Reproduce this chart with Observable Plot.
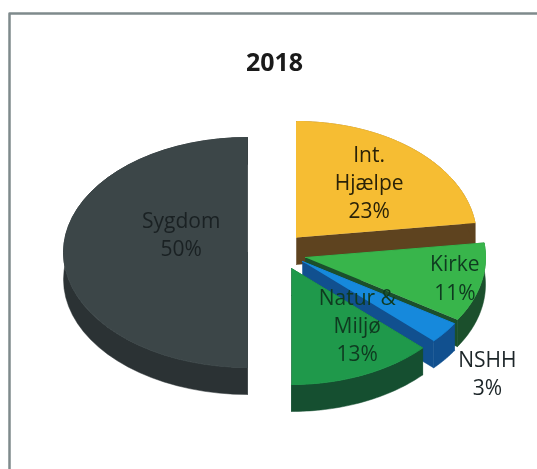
<!DOCTYPE html>
<html><head><meta charset="utf-8">
<script src="https://cdn.jsdelivr.net/npm/d3@7"></script>
<script src="https://cdn.jsdelivr.net/npm/@observablehq/plot@0.6"></script>
<style>html,body{margin:0;padding:0;background:#fff}svg{display:block}</style>
</head><body><div id="chart"></div>
<script>
const title = "2018";
const categories = ["Int.\nHjælpe", "Kirke", "NSHH", "Natur &\nMiljø", "Sygdom"];
const shares = [23, 11, 3, 13, 50];

const topColors = ["#f6bd33", "#38b54b", "#1689dc", "#1f994b", "#3c4648"];
const sideColors = ["#5e431f", "#1b4f2c", "#11508f", "#154f30", "#2b3234"];
const textColors = ["#2a2208", "#0f3a20", "#1c2528", "#0f3a20", "#1a2123"];

// layout of the exploded tilted disc, in picture units
const radiusX = [180, 180, 180, 180, 184];
const radiusY = [116, 116, 116, 116, 115];
const centreX = [296, 305, 302, 291, 247];
const centreY = [237, 257, 261, 268, 252];
const depth = 27;
// label place as fractions of the radii, from the slice's centre
const labelFx = [0.61, 0.85, 1.30, 0.92, -0.36];
const labelFy = [0.65, 0.75, 1.55, 0.52, -0.17];
const frameEdges = {left: 9, top: 13, right: 537, bottom: 469};

const angles = [];
shares.reduce((a, v, i) => { const b = a + v / 100 * 2 * Math.PI; angles[i] = [a, b]; return b; }, 0);

const tops = [], sides = [], labels = [];
categories.forEach((name, i) => {
  const [a0, a1] = angles[i];
  const at = (t, dz = 0) => ({x: centreX[i] + radiusX[i] * Math.sin(t), y: centreY[i] - radiusY[i] * Math.cos(t) + dz});
  const arc = d3.range(0, 41).map(k => a0 + (a1 - a0) * k / 40);
  const c = {x: centreX[i], y: centreY[i]};
  const push = (arr, id, pts) => pts.forEach(p => arr.push({...p, id, key: i}));
  const cd = {x: c.x, y: c.y + depth};
  push(sides, i + "a", [c, at(a0), at(a0, depth), cd]);
  push(sides, i + "b", [c, at(a1), at(a1, depth), cd]);
  push(sides, i + "c", [...arc.map(t => at(t)), ...arc.slice().reverse().map(t => at(t, depth))]);
  push(tops, i + "t", [c, ...arc.map(t => at(t))]);
  const mid = (a0 + a1) / 2;
  labels.push({
    text: `${name}\n${shares[i]}%`,
    x: centreX[i] + labelFx[i] * radiusX[i] * (i === 4 ? 1 : Math.sin(mid)),
    y: centreY[i] + labelFy[i] * radiusY[i] * (i === 4 ? 1 : -Math.cos(mid)),
    color: textColors[i]
  });
});

const order = [4, 0, 1, 2, 3];
const marks = [];
for (const i of order) {
  marks.push(Plot.line(sides.filter(d => d.key === i), {x: "x", y: "y", z: "id", fill: sideColors[i], stroke: sideColors[i], strokeWidth: 0.5, imageFilter: "blur(0.6px)"}));
  marks.push(Plot.line(tops.filter(d => d.key === i), {x: "x", y: "y", z: "id", fill: topColors[i], stroke: topColors[i], strokeWidth: 1, imageFilter: "blur(0.6px)"}));
}
const f = frameEdges;
marks.push(Plot.line([{x: f.left, y: f.bottom}, {x: f.left, y: f.top}, {x: f.right, y: f.top}],
  {x: "x", y: "y", stroke: "#7f8a8c", strokeWidth: 2.5, imageFilter: "blur(0.4px)"}));
marks.push(Plot.text(labels, {x: "x", y: "y", text: "text", fill: "color", fontSize: 21, fontWeight: 500, lineHeight: 1.34, fontFamily: "Open Sans", textAnchor: "middle", imageFilter: "blur(0.4px)"}));
marks.push(Plot.text([title], {x: () => 274, y: () => 62, text: d => d, fill: "#1a1a1a", fontSize: 25, fontWeight: 700, fontFamily: "Open Sans", imageFilter: "blur(0.3px)"}));

document.getElementById("chart").append(Plot.plot({
  width: 537, height: 469, margin: 0,
  x: {domain: [0, 537], range: [0, 537], axis: null},
  y: {domain: [0, 469], range: [0, 469], axis: null},
  style: {background: "#fff"},
  marks
}));
</script></body></html>
